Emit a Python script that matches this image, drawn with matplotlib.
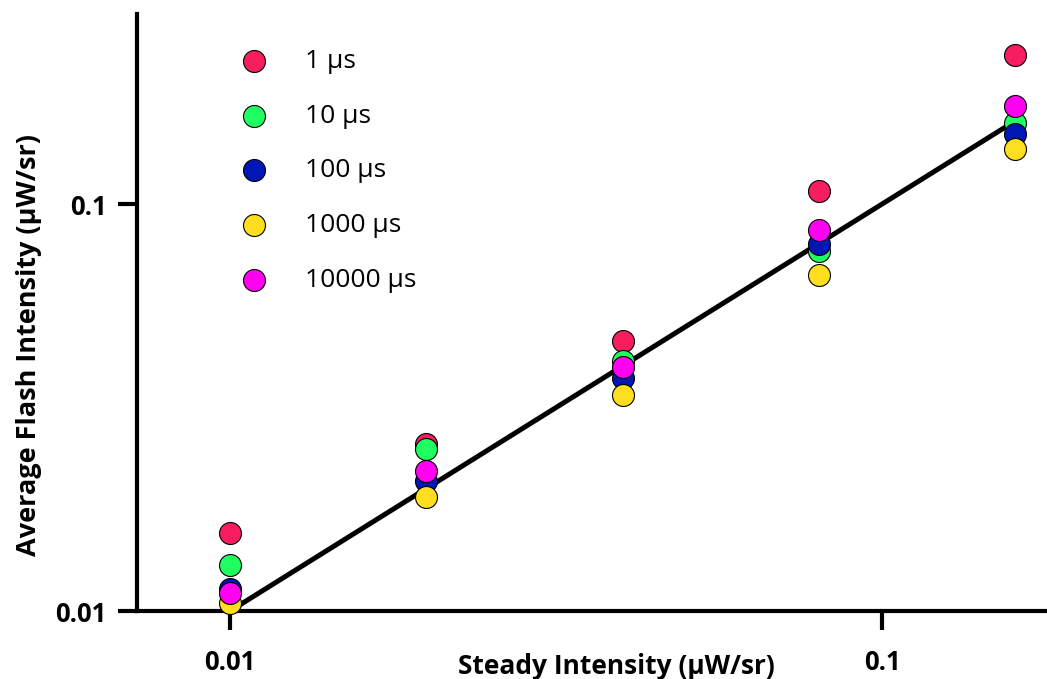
import matplotlib
matplotlib.use("Agg")
import matplotlib.pyplot as plt
from matplotlib.ticker import FixedLocator, NullLocator

steady = [0.01, 0.02, 0.04, 0.08, 0.16]
series_labels = ["1 µs", "10 µs", "100 µs", "1000 µs", "10000 µs"]
flash_1us = [0.01555, 0.0257, 0.0461, 0.1076, 0.2324]
flash_10us = [0.01297, 0.0250, 0.0411, 0.0766, 0.158]
flash_100us = [0.01132, 0.0209, 0.0374, 0.0797, 0.1486]
flash_1000us = [0.01046, 0.0191, 0.0339, 0.0669, 0.1365]
flash_10000us = [0.01107, 0.0221, 0.0398, 0.0863, 0.174]
fit_x = [0.01, 0.16]
fit_y = [0.01, 0.16]
xticks = [0.01, 0.1]
yticks = [0.01, 0.1]
tick_labels = ["0.01", "0.1"]

colors = ["#F61E5F", "#1FFF5F", "#0016B5", "#FFDD1F", "#FF00F0"]
series = [flash_1us, flash_10us, flash_100us, flash_1000us, flash_10000us]

plt.rcParams['font.family'] = ['Open Sans', 'DejaVu Sans']

fig = plt.figure(figsize=(10.47, 6.79), dpi=100)
ax = fig.add_axes([137/1047, 1-611/679, 1-137/1047, (611-14)/679])
ax.set_xscale('log')
ax.set_yscale('log')
ax.set_xlim(0.0072, 0.179)
ax.set_ylim(0.01, 0.293)

ax.plot(fit_x, fit_y, color='black', lw=3.6, zorder=2, solid_capstyle='butt')
for ys, c, lab in zip(series, colors, series_labels):
    ax.scatter(steady, ys, s=250, color=c, edgecolor='black', linewidth=0.8,
               zorder=3, label=lab, clip_on=False)

for side in ['top', 'right']:
    ax.spines[side].set_visible(False)
for side in ['left', 'bottom']:
    ax.spines[side].set_linewidth(3)

ax.xaxis.set_major_locator(FixedLocator(xticks))
ax.yaxis.set_major_locator(FixedLocator(yticks))
ax.xaxis.set_minor_locator(NullLocator())
ax.yaxis.set_minor_locator(NullLocator())
ax.set_xticklabels(tick_labels, fontsize=18.5, fontweight='bold')
ax.set_yticklabels(tick_labels, fontsize=18.5, fontweight='bold')
ax.tick_params(axis='both', which='major', length=14, width=3)
ax.tick_params(axis='x', pad=13)
ax.tick_params(axis='y', pad=8)

ax.set_xlabel("Steady Intensity (µW/sr)", fontsize=19, fontweight='bold')
ax.xaxis.set_label_coords(0.527, -0.071)
ax.set_ylabel("Average Flash Intensity (µW/sr)", fontsize=19.5, fontweight='bold')
ax.yaxis.set_label_coords(-0.1044, 0.446)

leg = ax.legend(loc='upper left', bbox_to_anchor=(0.0853, 0.963), frameon=False,
                fontsize=19, labelspacing=1.12, handletextpad=0.93, borderpad=0,
                handlelength=2.0, scatterpoints=1)

fig.savefig("out.png", dpi=100)
